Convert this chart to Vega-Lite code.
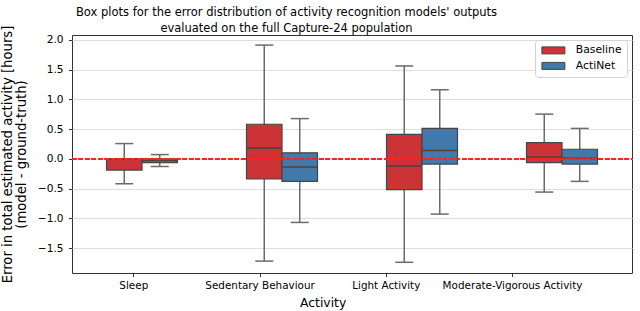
{
  "$schema": "https://vega.github.io/schema/vega-lite/v6.json",
  "autosize": {"type": "none"},
  "padding": {"left": 72, "top": 35, "right": 8, "bottom": 38},
  "width": 560,
  "height": 238,
  "config": {
    "font": "DejaVu Sans",
    "view": {"stroke": "#333333", "strokeWidth": 1},
    "axis": {"labelFont": "DejaVu Sans", "titleFont": "DejaVu Sans", "labelColor": "#000000", "titleColor": "#000000", "titleFontWeight": "normal"}
  },
  "title": {
    "text": ["Box plots for the error distribution of activity recognition models' outputs", "evaluated on the full Capture-24 population"],
    "fontSize": 11.5,
    "fontWeight": "normal",
    "color": "#000000",
    "lineHeight": 16,
    "offset": 4,
    "dy": 13,
    "dx": -65.5
  },
  "data": {
    "values": [
      {"activity": "Sleep", "model": "Baseline", "lower": -0.42, "q1": -0.19, "median": -0.01, "q3": 0.0, "upper": 0.255},
      {"activity": "Sleep", "model": "ActiNet", "lower": -0.13, "q1": -0.065, "median": -0.03, "q3": 0.0, "upper": 0.07},
      {"activity": "Sedentary Behaviour", "model": "Baseline", "lower": -1.72, "q1": -0.34, "median": 0.18, "q3": 0.58, "upper": 1.91},
      {"activity": "Sedentary Behaviour", "model": "ActiNet", "lower": -1.07, "q1": -0.38, "median": -0.14, "q3": 0.1, "upper": 0.675},
      {"activity": "Light Activity", "model": "Baseline", "lower": -1.74, "q1": -0.52, "median": -0.12, "q3": 0.41, "upper": 1.56},
      {"activity": "Light Activity", "model": "ActiNet", "lower": -0.93, "q1": -0.09, "median": 0.14, "q3": 0.51, "upper": 1.16},
      {"activity": "Moderate-Vigorous Activity", "model": "Baseline", "lower": -0.56, "q1": -0.065, "median": 0.03, "q3": 0.27, "upper": 0.75},
      {"activity": "Moderate-Vigorous Activity", "model": "ActiNet", "lower": -0.38, "q1": -0.09, "median": 0.01, "q3": 0.16, "upper": 0.51}
    ]
  },
  "layer": [
    {
      "encoding": {
        "x": {"field": "activity", "type": "nominal", "sort": null,
              "scale": {"paddingInner": 0, "paddingOuter": 0}, "axis": null},
        "xOffset": {"field": "model", "type": "nominal", "sort": ["Baseline", "ActiNet"],
                    "scale": {"paddingInner": 0, "paddingOuter": 0.972}},
        "y": {"field": "lower", "type": "quantitative",
              "scale": {"domain": [-1.92, 2.08], "nice": false, "zero": false},
              "axis": {
                "values": [-1.5, -1.0, -0.5, 0.0, 0.5, 1.0, 1.5, 2.0],
                "format": ".1f",
                "labelFontSize": 10.6,
                "tickSize": 3.5,
                "tickColor": "#333333",
                "labelPadding": 5.5,
                "domain": false,
                "grid": true,
                "gridColor": "#dedede",
                "gridWidth": 1,
                "title": ["Error in total estimated activity [hours]", "(model - ground-truth)"],
                "titleFontSize": 13.2,
                "titleLineHeight": 14,
                "titlePadding": 9
              }}
      },
      "layer": [
        {
          "mark": {"type": "rule", "color": "#6b6b6b", "strokeWidth": 1.5},
          "encoding": {"y2": {"field": "upper"}}
        },
        {
          "mark": {"type": "bar", "stroke": "#454545", "strokeWidth": 1.2, "opacity": 1},
          "encoding": {
            "y": {"field": "q1", "type": "quantitative"},
            "y2": {"field": "q3"},
            "fill": {"field": "model", "type": "nominal",
                     "scale": {"domain": ["Baseline", "ActiNet"], "range": ["#cc3336", "#4279aa"]},
                     "legend": {
                       "title": null,
                       "orient": "top-right",
                       "offset": 5,
                       "fillColor": "#ffffff",
                       "strokeColor": "#d3d3d3",
                       "cornerRadius": 3,
                       "padding": 5,
                       "rowPadding": 3.5,
                       "symbolType": "M-1,-1H5.571V1H-1Z",
                       "symbolSize": 49,
                       "symbolStrokeColor": "#454545",
                       "symbolStrokeWidth": 1,
                       "symbolOpacity": 1,
                       "labelFontSize": 10.8,
                       "labelOffset": 25,
                       "labelColor": "#000000"
                     }}
          }
        },
        {
          "mark": {"type": "tick", "color": "#454545", "thickness": 1.5, "size": 35.5, "opacity": 1},
          "encoding": {"y": {"field": "median", "type": "quantitative"}}
        },
        {
          "mark": {"type": "tick", "color": "#6b6b6b", "thickness": 1.5, "size": 18, "opacity": 1},
          "encoding": {"y": {"field": "upper", "type": "quantitative"}}
        },
        {
          "mark": {"type": "tick", "color": "#6b6b6b", "thickness": 1.5, "size": 18, "opacity": 1},
          "encoding": {"y": {"field": "lower", "type": "quantitative"}}
        },
        {
          "mark": {"type": "rule", "color": "#ff2020", "strokeWidth": 1.3, "strokeDash": [4.5, 2]},
          "encoding": {"y": {"datum": 0}, "x": {"value": 0}, "x2": {"value": 560}, "xOffset": null}
        }
      ]
    },
    {
      "mark": {"type": "point", "opacity": 0},
      "encoding": {
        "x": {"field": "activity", "type": "nominal", "sort": null,
              "scale": {"type": "point", "range": [61.3, 440], "padding": 0},
              "axis": {
                "orient": "bottom",
                "domain": false,
                "grid": false,
                "ticks": true,
                "tickSize": 3.5,
                "tickColor": "#333333",
                "labelAngle": 0,
                "labelFontSize": 10.4,
                "labelPadding": 4,
                "title": "Activity",
                "titleFontSize": 12.4,
                "titlePadding": 6
              }}
      }
    }
  ],
  "resolve": {"scale": {"x": "independent"}, "axis": {"x": "independent"}}
}
